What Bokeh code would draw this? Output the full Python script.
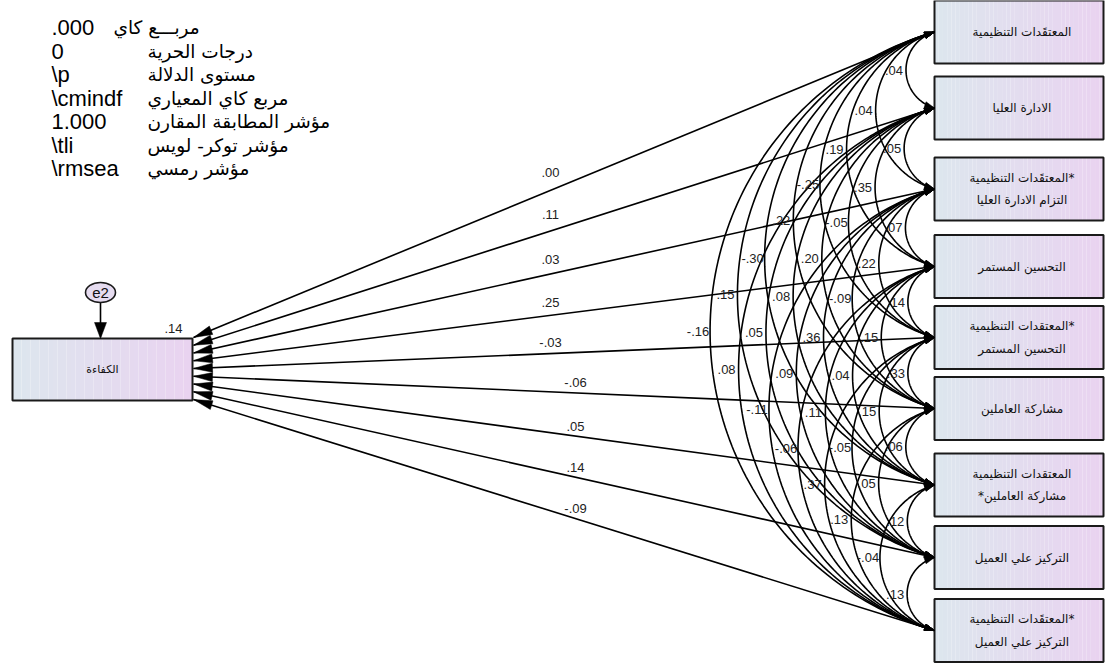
import numpy as np
from bokeh.plotting import figure
from bokeh.models import Range1d
from bokeh.core.properties import value
from bokeh.embed import file_html
from bokeh.resources import INLINE

# ---------------- data ----------------
fit_labels = ["مربـــع كاي", "درجات الحرية", "مستوى الدلالة", "مربع كاي المعياري",
              "مؤشر المطابقة المقارن", "مؤشر توكر- لويس", "مؤشر رمسي"]
fit_values = [".000", "0", "\\p", "\\cmindf", "1.000", "\\tli", "\\rmsea"]

exog_names = [
    "المعتقَدات التنظيمية",
    "الادارة العليا",
    "المعتقَدات التنظيمية*\nالتزام الادارة العليا",
    "التحسين المستمر",
    "المعتقدات التنظيمية*\nالتحسين المستمر",
    "مشاركة العاملين",
    "المعتقدات التنظيمية\n*مشاركة العاملين",
    "التركيز علي العميل",
    "المعتقَدات التنظيمية*\nالتركيز علي العميل",
]
path_coefs = [".00", ".11", ".03", ".25", "-.03", "-.06", ".05", ".14", "-.09"]
endog_name = "الكفاءة"
r_squared = ".14"
error_name = "e2"

cov_from = [0, 0, 0, 0, 0, 0, 0, 0, 1, 1, 1, 1, 1, 1, 1, 2, 2, 2, 2, 2, 2,
            3, 3, 3, 3, 3, 4, 4, 4, 4, 5, 5, 5, 6, 6, 7]
cov_to = [1, 2, 3, 4, 5, 6, 7, 8, 2, 3, 4, 5, 6, 7, 8, 3, 4, 5, 6, 7, 8,
          4, 5, 6, 7, 8, 5, 6, 7, 8, 6, 7, 8, 7, 8, 8]
cov_values = [".04", ".04", ".19", "-.25", ".22", "-.30", ".15", "-.16",
              ".05", ".35", "-.05", ".20", ".08", ".05", ".08",
              ".07", ".22", "-.09", ".36", ".09", "-.11",
              ".14", ".15", ".04", ".11", "-.06",
              ".33", ".15", "-.05", ".37",
              ".06", ".05", ".13",
              ".12", "-.04",
              ".13"]

# ---------------- layout ----------------
W, H = 1111, 666
BOX_L, BOX_R = 934, 1103
box_cy = [31.5, 107.5, 188.5, 266, 337, 408, 484.5, 557, 630]
BOX_HH = 31.5
LB_L, LB_R, LB_T, LB_B = 12, 192, 338, 400
tips_y = [337 + 7.75 * k for k in range(9)]
BULGE = 0.375
C_LEFT = np.array([0xdd, 0xe7, 0xee])
C_RIGHT = np.array([0xea, 0xd3, 0xf1])
ARAB = value("DejaVu Sans")
LAT = value("Liberation Sans")

p = figure(width=W, height=H, output_backend="svg", toolbar_location=None,
           x_range=Range1d(0, W), y_range=Range1d(H, 0),
           x_axis_type=None, y_axis_type=None, min_border=0,
           outline_line_color=None, background_fill_color="white")
p.grid.visible = False


def grad_box(x0, x1, y0, y1, n=40):
    xs = np.linspace(x0, x1, n + 1)
    cols = []
    for i in range(n):
        t = (i + 0.5) / n
        c = (C_LEFT * (1 - t) + C_RIGHT * t).astype(int)
        cols.append("#%02x%02x%02x" % tuple(c))
    p.quad(left=xs[:-1], right=xs[1:], top=[y0] * n, bottom=[y1] * n,
           fill_color=cols, line_color=None)
    p.quad(left=[x0], right=[x1], top=[y0], bottom=[y1], fill_color=None,
           line_color="#1a1a1a", line_width=2)


def head(tip, frm, length, hw):
    tip = np.array(tip, float)
    d = tip - np.array(frm, float)
    d /= np.hypot(*d)
    base = tip - d * length
    nrm = np.array([-d[1], d[0]])
    a = base + nrm * hw
    b = base - nrm * hw
    return [tip[0], a[0], b[0]], [tip[1], a[1], b[1]]


hx, hy = [], []

# covariance arcs
arc_xs, arc_ys, lab_x, lab_y = [], [], [], []
for i, j in zip(cov_from, cov_to):
    y1, y2 = box_cy[i], box_cy[j]
    h = (y2 - y1) / 2
    b = BULGE * (y2 - y1)
    R = (h * h + b * b) / (2 * b)
    cx = BOX_L - b + R
    ym = (y1 + y2) / 2
    a = np.arcsin(h / R)
    phi = np.linspace(np.pi - a, np.pi + a, 120)
    xs = cx + R * np.cos(phi)
    ys = ym + R * np.sin(phi)
    arc_xs.append(list(xs))
    arc_ys.append(list(ys))
    for tip_i, nb_i in ((0, 4), (-1, -5)):
        tx, ty = head((xs[tip_i], ys[tip_i]), (xs[nb_i], ys[nb_i]), 10, 3.2)
        hx.append(tx)
        hy.append(ty)
    lab_x.append(BOX_L - b - 12)
    lab_y.append(ym)

p.multi_line(arc_xs, arc_ys, line_color="black", line_width=1.6)

# regression paths
px0, py0, px1, py1, plx, ply = [], [], [], [], [], []
for k, c in enumerate(box_cy):
    t = tips_y[k]
    px0.append(BOX_L)
    py0.append(c)
    px1.append(LB_R + 1)
    py1.append(t)
    tx, ty = head((LB_R + 1, t), (BOX_L, c), 19, 4.5)
    hx.append(tx)
    hy.append(ty)
    lx = 550 if k < 5 else 575
    frac = (BOX_L - lx) / (BOX_L - LB_R)
    ly = c + frac * (t - c) - 10 - 0.025 * max(t - c, 0)
    plx.append(lx)
    ply.append(ly)

p.segment(px0, py0, px1, py1, line_color="black", line_width=1.6)

# boxes
for c in box_cy:
    grad_box(BOX_L, BOX_R, c - BOX_HH, c + BOX_HH)
grad_box(LB_L, LB_R, LB_T, LB_B)

# e2 error
E_X, E_Y = 100, 292
tx, ty = head((E_X, LB_T), (E_X, E_Y), 16, 6)
hx.append(tx)
hy.append(ty)
p.segment([E_X], [E_Y + 10], [E_X], [LB_T - 2], line_color="black", line_width=1.6)
p.patches(hx, hy, fill_color="black", line_color="black", line_width=0.5)
p.ellipse(x=[E_X], y=[E_Y], width=30, height=20, fill_color="#e6dcf0",
          line_color="#1a1a1a", line_width=1.6)
p.text(x=[E_X], y=[E_Y], text=[error_name], text_align="center", text_baseline="middle",
       text_font=LAT, text_font_size=value("15px"), text_color="#111")

# texts
p.text(x=lab_x, y=lab_y, text=cov_values, text_align="center", text_baseline="middle",
       text_font=LAT, text_font_size=value("13px"), text_color="#222")
p.text(x=plx, y=ply, text=path_coefs, text_align="center", text_baseline="middle",
       text_font=LAT, text_font_size=value("13px"), text_color="#222")
p.text(x=[173], y=[328], text=[r_squared], text_align="center", text_baseline="middle",
       text_font=LAT, text_font_size=value("13px"), text_color="#222")

p.text(x=[(BOX_L + BOX_R) / 2 + 3] * 9, y=box_cy, text=exog_names, text_align="center",
       text_baseline="middle", text_font=ARAB, text_font_size=value("12px"),
       text_color="#111", text_line_height=1.6)
p.text(x=[(LB_L + LB_R) / 2], y=[(LB_T + LB_B) / 2], text=[endog_name], text_align="center",
       text_baseline="middle", text_font=ARAB, text_font_size=value("11px"), text_color="#111")

fy = [27 + 23.5 * k for k in range(len(fit_values))]
p.text(x=[51] * len(fit_values), y=fy, text=fit_values, text_align="left",
       text_baseline="middle", text_font=LAT, text_font_size=value("22px"), text_color="black")
p.text(x=[113] + [147] * (len(fit_labels) - 1), y=fy, text=fit_labels, text_align="left",
       text_baseline="middle", text_font=ARAB, text_font_size=value("18.5px"), text_color="black")

open("out.html", "w").write(file_html(p, INLINE))
